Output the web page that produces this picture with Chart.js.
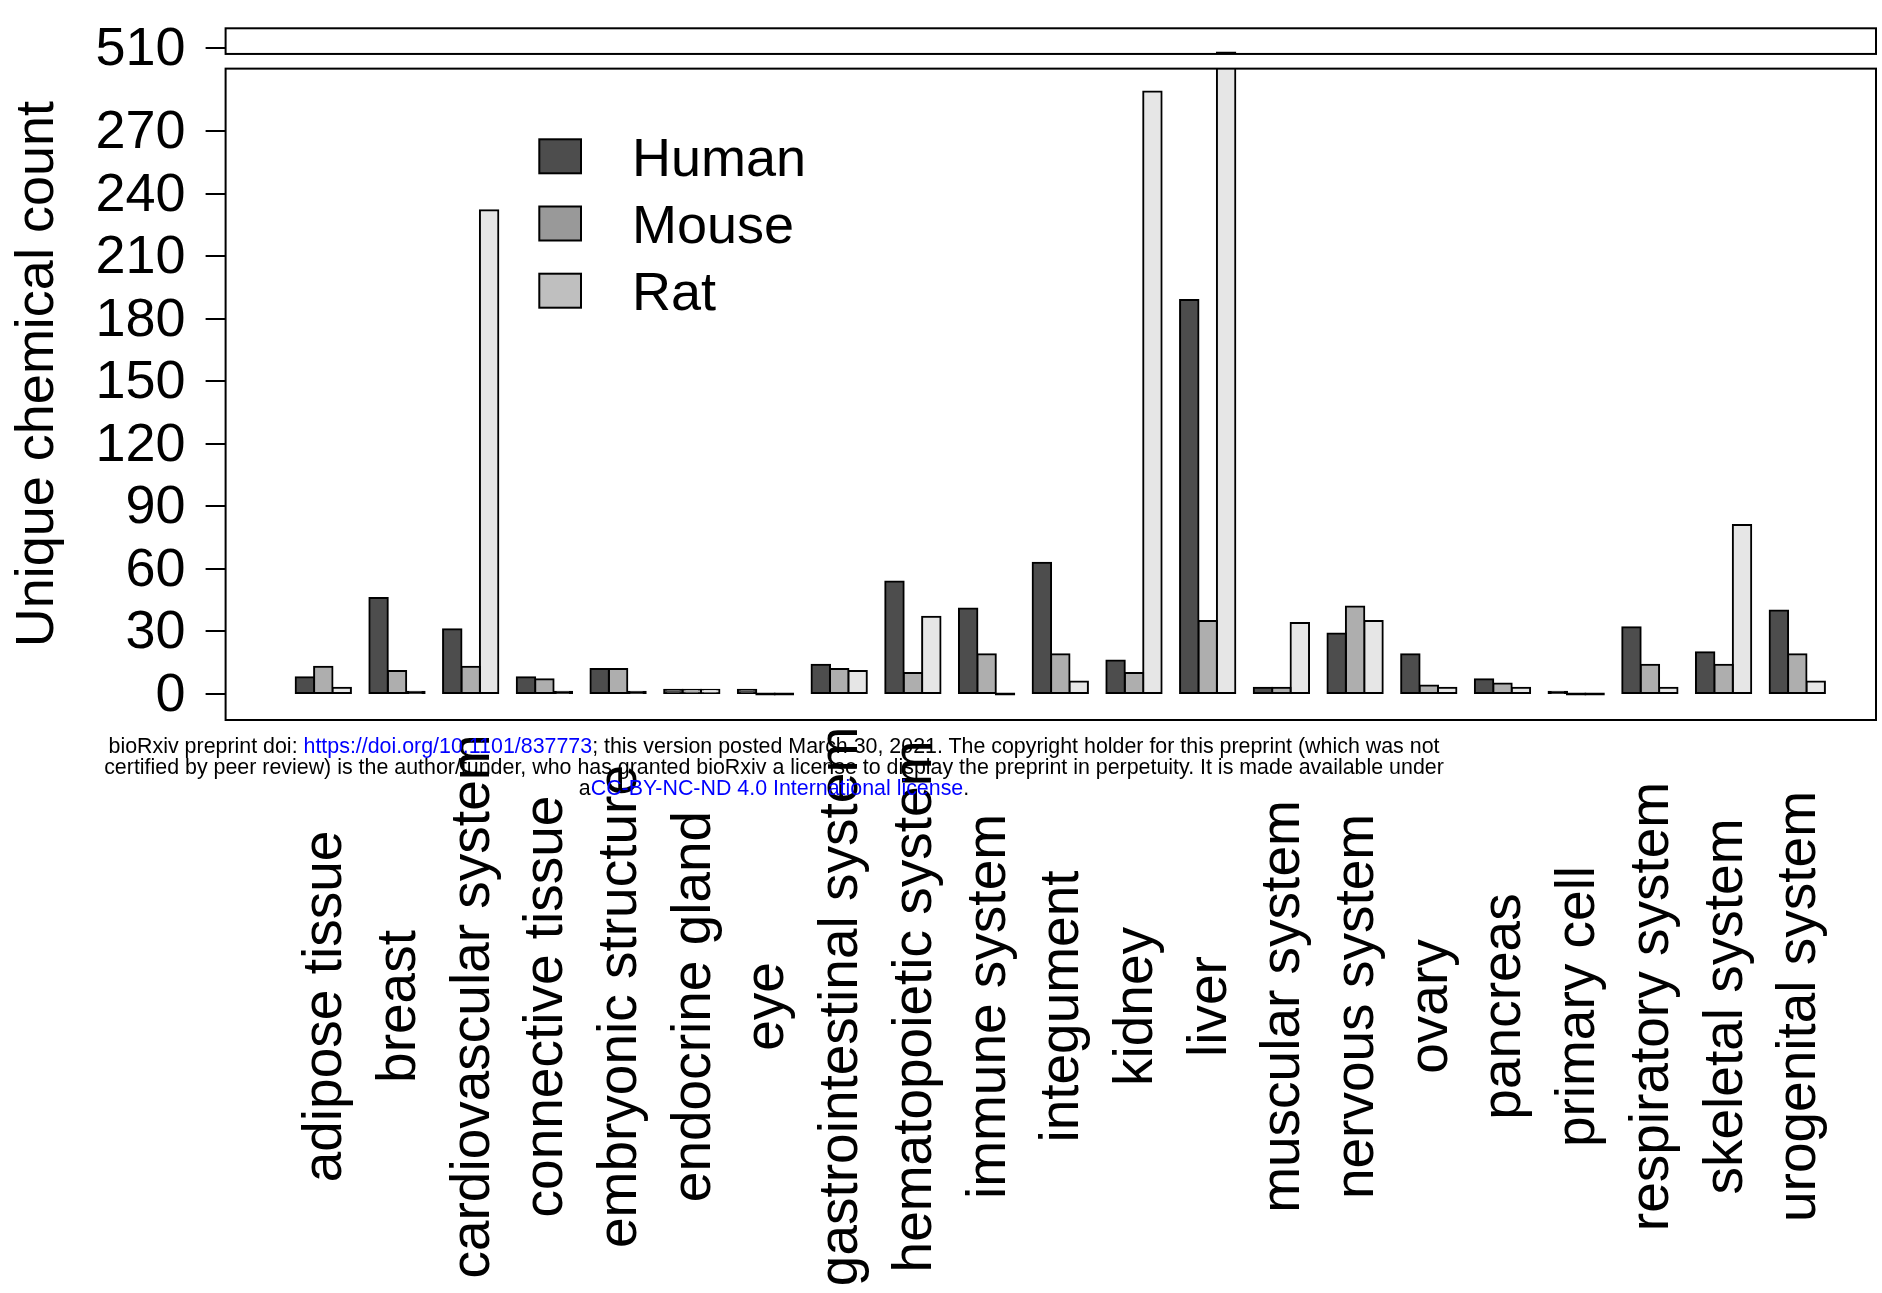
<!DOCTYPE html>
<html>
<head>
<meta charset="utf-8">
<script src="https://cdn.jsdelivr.net/npm/chart.js@4/dist/chart.umd.min.js"></script>
<style>
  html, body { margin: 0; padding: 0; background: #fff; }
  #wrap { position: relative; width: 1882px; height: 1293px; overflow: hidden; background: #fff; }
  #wrap canvas { position: absolute; left: 0; top: 0; }
  .stamp {
    position: absolute; left: 0; top: 736.1px; width: 1548px;
    text-align: center; white-space: nowrap; color: #000;
    font-family: "Liberation Sans", Arial, Helvetica, sans-serif;
    font-size: 21.4px; line-height: 21px;
  }
  .stamp a { color: #0000ff; text-decoration: none; }
</style>
</head>
<body>
<div id="wrap">
  <canvas id="chart" width="1882" height="1293"></canvas>
  <div class="stamp">bioRxiv preprint doi: <a>https://doi.org/10.1101/837773</a>; this version posted March 30, 2021. The copyright holder for this preprint (which was not<br>certified by peer review) is the author/funder, who has granted bioRxiv a license to display the preprint in perpetuity. It is made available under<br>a<a>CC-BY-NC-ND 4.0 International license</a>.</div>
</div>
<script>
// Tissue categories on the x axis
const categories = [
  'adipose tissue', 'breast', 'cardiovascular system', 'connective tissue',
  'embryonic structure', 'endocrine gland', 'eye', 'gastrointestinal system',
  'hematopoietic system', 'immune system', 'integument', 'kidney', 'liver',
  'muscular system', 'nervous system', 'ovary', 'pancreas', 'primary cell',
  'respiratory system', 'skeletal system', 'urogenital system'
];

// Species series
const seriesNames = ['Human', 'Mouse', 'Rat'];

// Unique chemical counts per tissue
const humanCounts = [8, 46, 31, 8, 12, 2, 2, 14, 54, 41, 63, 16, 189, 3, 29, 19, 7, 1, 32, 20, 40];
const mouseCounts = [13, 11, 13, 7, 12, 2, 0, 12, 10, 19, 19, 10, 35, 3, 42, 4, 5, 0, 14, 14, 19];
const ratCounts   = [3, 1, 232, 1, 1, 2, 0, 11, 37, 0, 6, 289, 508, 34, 35, 3, 3, 0, 3, 81, 6];

// Tick values on the broken count axis
const yTickValues = [0, 30, 60, 90, 120, 150, 180, 210, 240, 270, 510];

const seriesValues = [humanCounts, mouseCounts, ratCounts];
const barFills = ['#4d4d4d', '#aeaeae', '#e6e6e6'];
const keyFills = ['#4d4d4d', '#999999', '#bfbfbf'];
const FONT = '"Liberation Sans", Arial, Helvetica, sans-serif';

// Linear axis with a squeezed gap: values between brk.from and brk.to
// occupy only brk.size units of axis length.
class BrokenLinearScale extends Chart.LinearScale {
  static id = 'brokenLinear';
  squash(v) {
    const b = this.options.brk;
    if (v <= b.from) return v;
    if (v >= b.to) return v - (b.to - b.from) + b.size;
    return b.from + (v - b.from) * b.size / (b.to - b.from);
  }
  unsquash(s) {
    const b = this.options.brk;
    if (s <= b.from) return s;
    if (s >= b.from + b.size) return s + (b.to - b.from) - b.size;
    return b.from + (s - b.from) * (b.to - b.from) / b.size;
  }
  determineDataLimits() {
    super.determineDataLimits();
    this.min = this.options.min;
    this.max = this.squash(this.options.max);
  }
  buildTicks() {
    return yTickValues.map(v => ({ value: v }));
  }
  getPixelForValue(value, index) {
    if (value === null || value === undefined) return NaN;
    return super.getPixelForValue(this.squash(value), index);
  }
  getValueForPixel(pixel) {
    return this.unsquash(super.getValueForPixel(pixel));
  }
}
Chart.register(BrokenLinearScale);

// White band across the axis break, plus the two panel frames
const breakFrame = {
  id: 'breakFrame',
  afterDatasetsDraw(chart) {
    const { ctx, chartArea: ca } = chart;
    const ys = chart.scales.y;
    const b = ys.options.brk;
    const gTop = ys.getPixelForValue(b.to);
    const gBot = ys.getPixelForValue(b.from);
    ctx.save();
    ctx.fillStyle = '#fff';
    ctx.fillRect(ca.left - 3, gTop, ca.right - ca.left + 6, gBot - gTop);
    ctx.strokeStyle = '#000';
    ctx.lineWidth = 2;
    ctx.strokeRect(ca.left, ca.top, ca.right - ca.left, gTop - ca.top);
    ctx.strokeRect(ca.left, gBot, ca.right - ca.left, ca.bottom - gBot);
    ctx.restore();
  }
};

// Vertical category names, centred on each group
const groupLabels = {
  id: 'groupLabels',
  afterDraw(chart, args, opts) {
    const { ctx } = chart;
    const xs = chart.scales.x;
    ctx.save();
    ctx.fillStyle = '#000';
    ctx.font = opts.size + 'px ' + FONT;
    ctx.textAlign = 'center';
    ctx.textBaseline = 'alphabetic';
    categories.forEach((name, i) => {
      ctx.save();
      ctx.translate(xs.getPixelForValue(i), opts.centerY);
      ctx.rotate(-Math.PI / 2);
      ctx.fillText(name, 0, opts.baselineShift);
      ctx.restore();
    });
    ctx.restore();
  }
};

// Species key inside the plot
const speciesKey = {
  id: 'speciesKey',
  afterDraw(chart, args, o) {
    const { ctx } = chart;
    ctx.save();
    ctx.font = o.size + 'px ' + FONT;
    ctx.textAlign = 'left';
    ctx.textBaseline = 'alphabetic';
    seriesNames.forEach((name, s) => {
      const y = o.top + s * o.step;
      ctx.fillStyle = keyFills[s];
      ctx.fillRect(o.left, y, o.boxW, o.boxH);
      ctx.strokeStyle = '#000';
      ctx.lineWidth = 2;
      ctx.strokeRect(o.left, y, o.boxW, o.boxH);
      ctx.fillStyle = '#000';
      ctx.fillText(name, o.textX, y + o.boxH / 2 + o.size * 0.358);
    });
    ctx.restore();
  }
};

new Chart(document.getElementById('chart'), {
  type: 'bar',
  data: {
    datasets: seriesNames.map((name, s) => ({
      label: name,
      data: seriesValues[s].map((v, i) => ({ x: i, y: v })),
      // bars only a stroke tall render as solid outline
      backgroundColor: c => (c.raw && c.raw.y <= 1) ? '#000' : barFills[s],
      borderColor: '#000',
      borderWidth: 2,
      borderSkipped: false,
      inflateAmount: 1,
      minBarLength: 1,
      categoryPercentage: 0.75,
      barPercentage: 1
    }))
  },
  options: {
    responsive: false,
    devicePixelRatio: 1,
    animation: false,
    layout: { autoPadding: false, padding: { left: 0, top: 28.3, right: 6, bottom: 573 } },
    plugins: {
      legend: { display: false },
      tooltip: { enabled: false },
      groupLabels: { size: 55, centerY: 1006.5, baselineShift: 18 },
      speciesKey: { size: 54, left: 539.3, top: 139.3, step: 67.2, boxW: 41.7, boxH: 34, textX: 632 }
    },
    scales: {
      x: {
        type: 'linear',
        min: -1.3256,
        max: 21.068,
        offset: false,
        afterBuildTicks: axis => { axis.ticks = categories.map((c, i) => ({ value: i })); },
        afterFit: axis => { axis.height = 0; },
        grid: { display: false, offset: false },
        border: { display: false },
        ticks: { display: false, autoSkip: false }
      },
      y: {
        type: 'brokenLinear',
        min: -12.5,
        max: 519.6,
        brk: { from: 300, to: 507.3, size: 7.05 },
        afterFit: axis => { axis.width = 225.6; axis.paddingTop = 0; axis.paddingBottom = 0; },
        border: { display: false },
        grid: { drawOnChartArea: false, drawTicks: true, tickLength: 20, color: '#000', lineWidth: 2 },
        ticks: {
          autoSkip: false,
          color: '#000',
          padding: 20,
          labelOffset: 2,
          font: { family: FONT, size: 54, lineHeight: 1 },
          callback: v => String(v)
        },
        title: {
          display: true,
          text: 'Unique chemical count',
          color: '#000',
          font: { family: FONT, size: 54 },
          padding: { top: 6, bottom: 0 }
        }
      }
    }
  },
  plugins: [breakFrame, groupLabels, speciesKey]
});
</script>
</body>
</html>
